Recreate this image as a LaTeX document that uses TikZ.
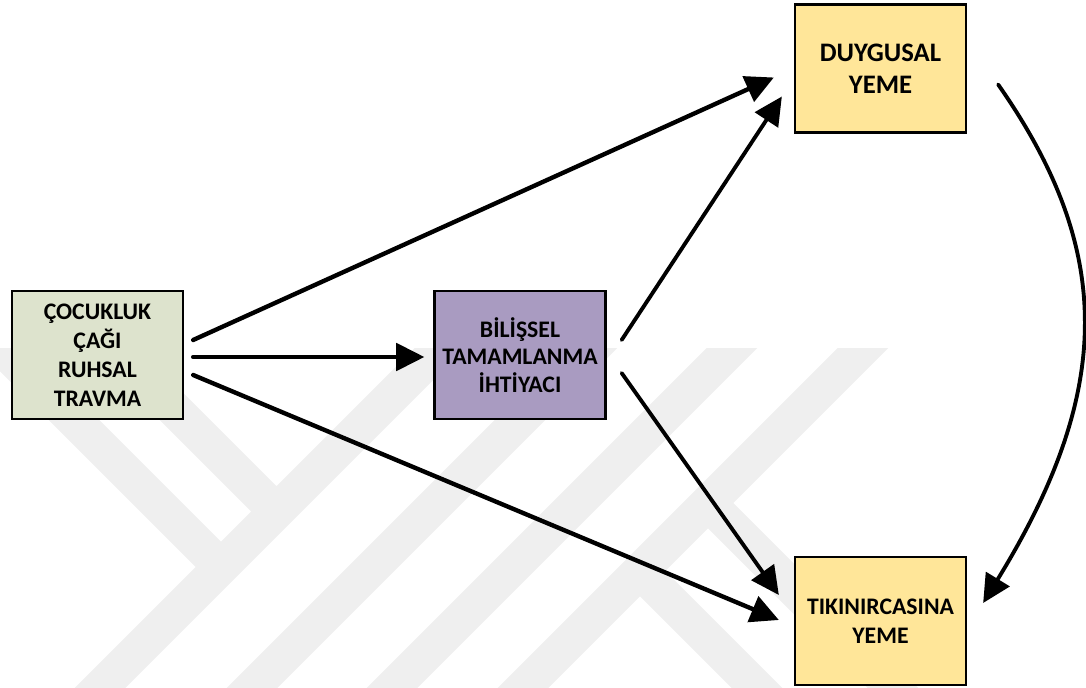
\documentclass[tikz,border=0pt]{standalone}
\usepackage{fontspec}
\setmainfont{Carlito}
\usetikzlibrary{arrows.meta,calc,shadows}
\definecolor{yesil}{HTML}{DDE3CD}
\definecolor{mor}{HTML}{A99BC1}
\definecolor{sari}{HTML}{FFE699}
\definecolor{filigran}{HTML}{EFEFEF}

\begin{document}
\begin{tikzpicture}[x=0.2mm,y=-0.2mm,>={Triangle[length=16pt,width=15.5pt]},
    kutu/.style={draw,line width=1.3pt,minimum width=3.42cm,minimum height=2.56cm,align=center,
        font=\fontsize{13.5}{16.5}\selectfont\bfseries,
        drop shadow={shadow xshift=0.7pt,shadow yshift=-0.7pt,fill=black,opacity=0.9}},
    ok/.style={->,line width=2.5pt,line cap=round}]
    \useasboundingbox (0,0) rectangle (1086,688);
    % filigran
    \begin{scope}
        \clip (0,348) rectangle (1086,688);
        \draw[filigran,line width=7.2mm]
            (60,728) -- (480,308)  (232,708) -- (612,328)  (372,708) -- (752,328)  (503,708) -- (883,328)
            (-20,326) -- (221,567)  (91,326) -- (277,512)  (640,571) -- (777,708)  (708,503) -- (913,708);
    \end{scope}
    % kutular
    \node[kutu,fill=yesil] (cocuk) at (97.5,355) {ÇOCUKLUK\\ÇAĞI\\RUHSAL\\TRAVMA};
    \node[kutu,fill=mor,font=\fontsize{13.5}{15.5}\selectfont\bfseries] (bilis) at (520,355) {BİLİŞSEL\\TAMAMLANMA\\İHTİYACI};
    \node[kutu,fill=sari,font=\fontsize{15.2}{18}\selectfont\bfseries] (duyg) at (880.5,68.5) {DUYGUSAL\\YEME};
    \node[kutu,fill=sari] (tikin) at (880.5,621) {TIKINIRCASINA\\YEME};
    % oklar
    \draw[ok] ($(cocuk.east)+(9,-15)$) -- ($(duyg.west)+(-20,9)$);
    \draw[ok] ($(cocuk.east)+(9,2)$) -- ($(bilis.west)+(-9,2)$);
    \draw[ok] ($(cocuk.east)+(9,20)$) -- ($(tikin.west)+(-15,-1)$);
    \draw[ok,line width=2.2pt] ($(bilis.east)+(15,-15)$) -- ($(duyg.west)+(-12,28)$);
    \draw[ok,line width=2.2pt] ($(bilis.east)+(15,18)$) -- ($(tikin.west)+(-15,-26)$);
    \draw[ok,line width=2.2pt] ($(duyg.east)+(31,16)$) .. controls (1114,250) and (1114,390) .. ($(tikin.east)+(16,-18)$);
\end{tikzpicture}
\end{document}
